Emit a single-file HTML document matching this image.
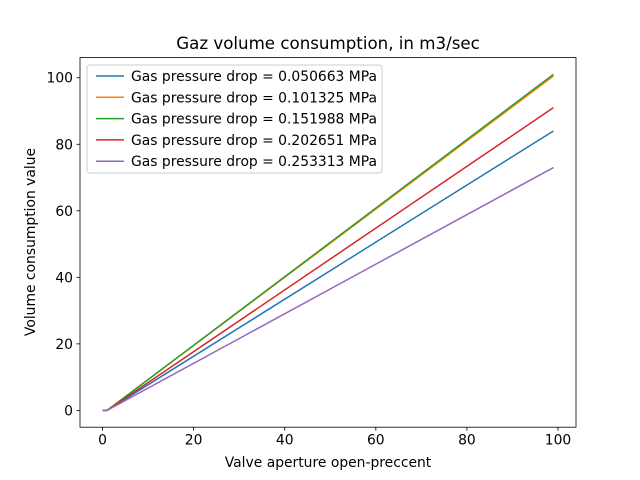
<!DOCTYPE html>
<html><head><meta charset="utf-8"><style>
body{margin:0;background:#fff;}
svg{display:block;font-family:"DejaVu Sans","Liberation Sans",sans-serif;}
</style></head><body>
<svg id="chart" width="640" height="480">
<rect width="640" height="480" fill="#fff"/>
<text x="328" y="49" text-anchor="middle" font-size="16.67">Gaz volume consumption, in m3/sec</text>
<g id="plot"></g>
<rect x="80" y="57.6" width="496" height="369.6" fill="none" stroke="#000" stroke-width="0.8"/>
<text x="328" y="467" text-anchor="middle" font-size="13.89">Valve aperture open-preccent</text>
<text transform="translate(35,242) rotate(-90)" text-anchor="middle" font-size="13.89">Volume consumption value</text>
<g id="legend"></g>
</svg>
<script>
const xValues=[0,1,99];
const seriesNames=["Gas pressure drop = 0.050663 MPa","Gas pressure drop = 0.101325 MPa","Gas pressure drop = 0.151988 MPa","Gas pressure drop = 0.202651 MPa","Gas pressure drop = 0.253313 MPa"];
const s1=[0,0,84];
const s2=[0,0,100.5];
const s3=[0,0,101];
const s4=[0,0,91];
const s5=[0,0,73];
const xTicks=[0,20,40,60,80,100];
const yTicks=[0,20,40,60,80,100];
const colors=["#1f77b4","#ff7f0e","#2ca02c","#d62728","#9467bd"];
const series=[s1,s2,s3,s4,s5];
const L=80,R=576,T=57.6,B=427.2;
const xmin=-4.95,xmax=103.95,ymin=-5.05,ymax=106.05;
const sx=v=>L+(v-xmin)/(xmax-xmin)*(R-L);
const sy=v=>B-(v-ymin)/(ymax-ymin)*(B-T);
const NS="http://www.w3.org/2000/svg";
const plot=document.getElementById('plot');
function mk(t,a,p){const e=document.createElementNS(NS,t);for(const k in a)e.setAttribute(k,a[k]);(p||plot).appendChild(e);return e;}
xTicks.forEach(v=>{
 const l=mk('line',{x1:sx(v),x2:sx(v),y1:B,y2:B+3.5,stroke:'#000','stroke-width':0.8});
 
 
 const t=mk('text',{x:sx(v),y:B+17.5,'text-anchor':'middle','font-size':13.89});t.textContent=v;
 
 
});
yTicks.forEach(v=>{
 const l=mk('line',{x1:L-3.5,x2:L,y1:sy(v),y2:sy(v),stroke:'#000','stroke-width':0.8});
 
 
 const t=mk('text',{x:L-7,y:sy(v)+5,'text-anchor':'end','font-size':13.89});t.textContent=v;
 
 
});
series.forEach((s,i)=>{
 const p=mk('polyline',{points:s.map((v,j)=>sx(xValues[j])+','+sy(v)).join(' '),fill:'none',stroke:colors[i],'stroke-width':1.5});
 
 
});
const lg=document.getElementById('legend');
const box=mk('rect',{x:87,y:65,width:295,height:108,rx:3,fill:'#fff','fill-opacity':0.8,stroke:'#ccc'},lg);


seriesNames.forEach((n,i)=>{
 const y=76+i*21.3;
 const l=mk('line',{x1:96,x2:124,y1:y,y2:y,stroke:colors[i],'stroke-width':1.5},lg);
 
 
 const t=mk('text',{x:131,y:y+5,'font-size':13.89},lg);t.textContent=n;
 
 
});
</script>
</body></html>
